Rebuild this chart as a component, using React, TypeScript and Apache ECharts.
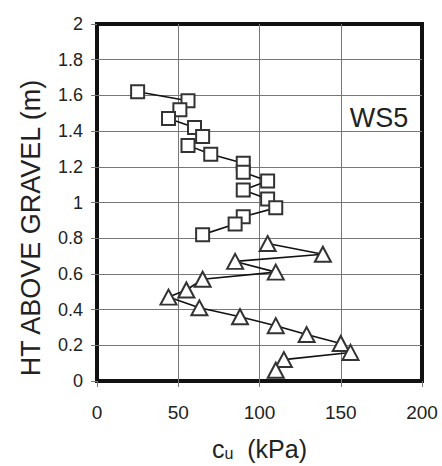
import React, { useEffect, useRef } from "react";
import * as echarts from "echarts";

const squareX = [25, 56, 51, 44, 60, 65, 56, 70, 90, 90, 105, 90, 105, 110, 90, 85, 65];
const squareY = [1.62, 1.57, 1.52, 1.47, 1.42, 1.37, 1.32, 1.27, 1.22, 1.17, 1.12, 1.07, 1.02, 0.97, 0.92, 0.88, 0.82];
const triangleX = [105, 139, 85, 110, 65, 55, 44, 63, 88, 110, 129, 150, 156, 115, 110];
const triangleY = [0.77, 0.71, 0.67, 0.61, 0.57, 0.51, 0.47, 0.41, 0.36, 0.31, 0.26, 0.21, 0.16, 0.12, 0.06];
const yAxisTitle = "HT ABOVE GRAVEL (m)";
const siteLabel = "WS5";

const FONT = "'Liberation Sans', Arial, sans-serif";

export default function App() {
  const ref = useRef<HTMLDivElement>(null);
  useEffect(() => {
    if (!ref.current) return;
    const chart = echarts.init(ref.current, null, { renderer: "svg" });
    const sq = squareX.map((x, i) => [x, squareY[i]]);
    const tri = triangleX.map((x, i) => [x, triangleY[i]]);
    chart.setOption({
      animation: false,
      backgroundColor: "#ffffff",
      textStyle: { fontFamily: FONT },
      grid: {
        left: 97,
        right: 20,
        top: 24,
        bottom: 80,
        show: true,
        borderColor: "#111111",
        borderWidth: 4,
        backgroundColor: "transparent",
      },
      xAxis: {
        type: "value",
        min: 0,
        max: 200,
        interval: 50,
        axisLine: { show: false },
        axisTick: { show: true, length: 6, lineStyle: { color: "#777", width: 1 } },
        axisLabel: { margin: 22, fontSize: 19, color: "#222", fontFamily: FONT },
        splitLine: { show: true, showMinLine: false, showMaxLine: false, lineStyle: { color: "#777", width: 1 } },
        name: "{c|c}{u|u}{p|  (kPa)}",
        nameLocation: "middle",
        nameGap: 55,
        nameTextStyle: {
          rich: {
            c: { fontSize: 25, color: "#222", fontFamily: FONT },
            u: { fontSize: 16, color: "#222", fontFamily: FONT, padding: [9, 0, 0, 0] },
            p: { fontSize: 25, color: "#222", fontFamily: FONT },
          },
        },
      },
      yAxis: {
        type: "value",
        min: 0,
        max: 2,
        interval: 0.2,
        axisLine: { show: false },
        axisTick: { show: true, length: 6, lineStyle: { color: "#777", width: 1 } },
        axisLabel: { margin: 14, fontSize: 18, color: "#222", fontFamily: FONT },
        splitLine: { show: true, showMinLine: false, showMaxLine: false, lineStyle: { color: "#777", width: 1 } },
      },
      graphic: [
        {
          type: "text",
          x: 31,
          y: 228,
          rotation: Math.PI / 2,
          style: {
            text: yAxisTitle,
            font: `27px ${FONT}`,
            fill: "#222",
            align: "center",
            verticalAlign: "middle",
            textAlign: "center",
            textVerticalAlign: "middle",
          },
        },
        {
          type: "text",
          x: 379,
          y: 118,
          style: {
            text: siteLabel,
            font: `27px ${FONT}`,
            fill: "#222",
            align: "center",
            verticalAlign: "middle",
            textAlign: "center",
            textVerticalAlign: "middle",
          },
        },
      ],
      series: [
        {
          type: "line",
          data: sq,
          symbol: "rect",
          symbolSize: 13,
          showAllSymbol: true,
          lineStyle: { color: "#111", width: 1.6 },
          itemStyle: { color: "#ffffff", borderColor: "#333", borderWidth: 2 },
          z: 3,
        },
        {
          type: "line",
          data: tri,
          symbol: "triangle",
          symbolSize: [16, 15],
          showAllSymbol: true,
          lineStyle: { color: "#111", width: 1.6 },
          itemStyle: { color: "#ffffff", borderColor: "#333", borderWidth: 2 },
          z: 3,
        },
      ],
    });
    return () => chart.dispose();
  }, []);
  return (
    <div
      ref={ref}
      style={{ position: "fixed", left: 0, top: 0, width: 442, height: 466 }}
    />
  );
}
